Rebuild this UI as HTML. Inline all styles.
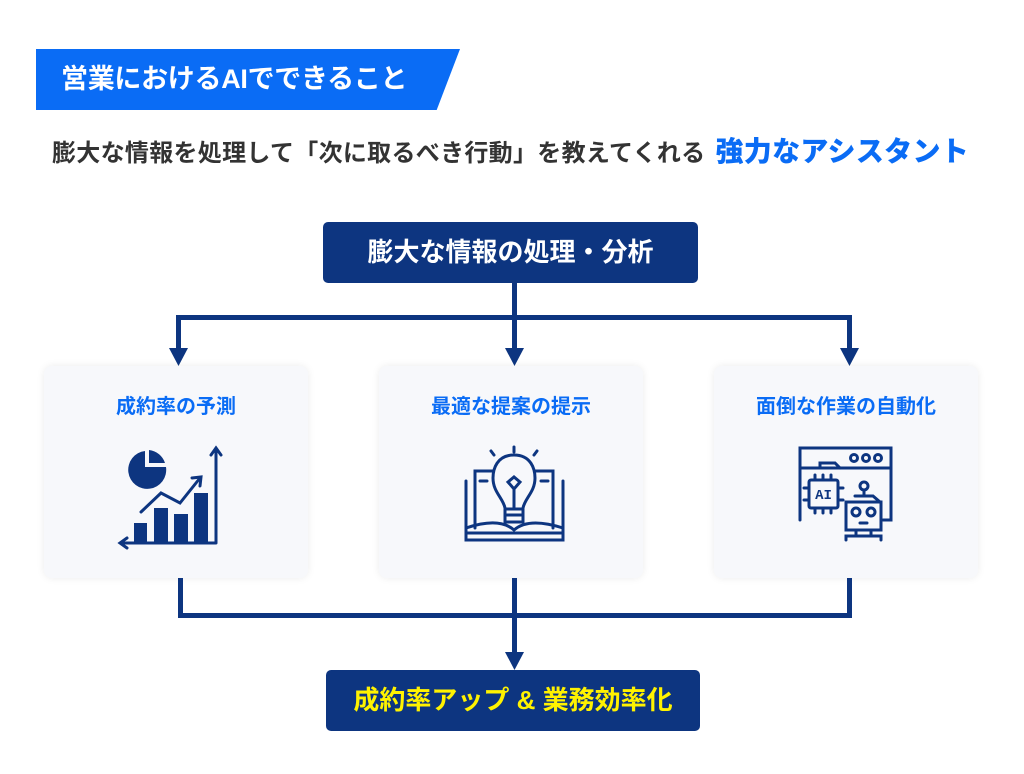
<!DOCTYPE html>
<html><head><meta charset="utf-8"><style>
body{margin:0;width:1024px;height:774px;background:#fff;position:relative;font-family:"Liberation Sans","Noto Sans CJK JP",sans-serif;overflow:hidden}
.a{position:absolute}
.banner{left:36px;top:49px;width:424px;height:61px;background:#0a6cf5;clip-path:polygon(0 0,100% 0,94.5% 100%,0 100%)}
.bt{left:61px;top:49px;height:61px;line-height:60px;color:#fff;font-weight:bold;font-size:27px;letter-spacing:-0.3px}
.sub{left:52px;top:130px;height:44px;line-height:44px;color:#333;font-weight:bold;font-size:24px;white-space:nowrap;letter-spacing:0.3px}
.sub b{color:#0a6cf5;font-size:28px;margin-left:10px}
.box{background:#0d3580;border-radius:5px;color:#fff;font-weight:bold;font-size:26px;text-align:center;line-height:61px;height:61px}
.card{background:#f7f8fb;border-radius:8px;box-shadow:0 0 8px rgba(0,0,0,.08);width:264px;height:212px;top:366px}
.card .t{position:absolute;top:28px;width:100%;text-align:center;color:#0a6cf5;font-weight:bold;font-size:20px;line-height:26px}
.ln{background:#0d3580}
</style></head><body>
<div class="a banner"></div>
<div class="a bt">営業におけるAIでできること</div>
<div class="a sub">膨大な情報を処理して「次に取るべき行動」を教えてくれる<b>強力なアシスタント</b></div>
<div class="a box" style="left:323px;top:222px;width:375px">膨大な情報の処理・分析</div>
<div class="a ln" style="left:512px;top:283px;width:5px;height:70px"></div>
<div class="a ln" style="left:176px;top:315px;width:676px;height:5px"></div>
<div class="a ln" style="left:176px;top:315px;width:5px;height:38px"></div>
<div class="a ln" style="left:847px;top:315px;width:5px;height:38px"></div>
<svg class="a" style="left:0;top:0" width="1024" height="774">
<g fill="#0d3580"><polygon points="169,348 188,348 178.5,366"/><polygon points="505,348 524,348 514.5,366"/><polygon points="840,348 859,348 849.5,366"/></g>
</svg>
<div class="a card" style="left:44px"><div class="t">成約率の予測</div></div>
<div class="a card" style="left:379px"><div class="t">最適な提案の提示</div></div>
<div class="a card" style="left:714px"><div class="t">面倒な作業の自動化</div></div>
<svg class="a" style="left:0;top:0" width="1024" height="774" fill="none" stroke="#0d3580" stroke-width="3" stroke-linecap="round">
<path d="M145 451 A19 19 0 1 0 166 467 L145 467 Z" fill="#0d3580" stroke="none"/>
<path d="M149 450 L149 463 L165 463 A19 19 0 0 0 149 450Z" fill="#0d3580" stroke="none"/>
<g fill="#0d3580" stroke="none"><rect x="134" y="523" width="13" height="20"/><rect x="154" y="508" width="14" height="35"/><rect x="174" y="514" width="14" height="29"/><rect x="194" y="493" width="14" height="50"/></g>
<path d="M141 512 L161 493 L180 503 L200 478"/><path d="M192 478 L201 477 L200 486"/>
<path d="M216 543 L216 449 M211 455 L216 448 L221 455 M216 543 L121 543 M127 538 L120 543 L127 548"/>
<path d="M514 455 C497 455 493 469 493 478 C493 492 503 498 505 508 L505 522 L523 522 L523 508 C525 498 535 492 535 478 C535 469 531 455 514 455Z"/>
<path d="M505 509 L523 509 M505 515 L523 515 M514 508 L514 490 M508 482 L514 489 L520 482 L514 477Z"/>
<path d="M514 447 L514 452 M494 455 L491 451 M534 455 L537 451"/>
<path d="M492 471 L475 471 L475 528 M536 471 L553 471 L553 528 M480 481 L487 481 M541 481 L548 481"/>
<path d="M466 481 L466 540 L563 540 L563 481 M466 533 L563 533 M466 528 C490 520 505 522 514 530 C523 522 538 520 563 528"/>
<path d="M800 520 L800 448 L891 448 L891 520 L883 520 M800 468 L891 468"/>
<circle cx="854" cy="458" r="3.5"/><circle cx="866" cy="458" r="3.5"/><circle cx="878" cy="458" r="3.5"/>
<path d="M820 468 L820 463 L835 463 L840 468"/>
<rect x="809" y="480" width="29" height="28" rx="2"/><path d="M815 480 L815 475 M823 480 L823 475 M831 480 L831 475 M815 508 L815 513 M823 508 L823 513 M831 508 L831 513 M809 488 L804 488 M809 500 L804 500 M838 488 L843 488 M838 500 L843 500"/>
<text x="823.5" y="499" font-size="14" font-weight="bold" fill="#0d3580" stroke="none" text-anchor="middle" font-family="Liberation Mono">AI</text>
<circle cx="864" cy="486" r="4"/><path d="M864 490 L864 496 M855 496 L873 496 L880 502 M846 502 L881 502 L881 530 L846 530 Z"/>
<circle cx="856" cy="512" r="4"/><circle cx="871" cy="512" r="4"/><path d="M860 523 L867 523 M856 530 L856 536 M871 530 L871 536 M846 540 L846 536 L881 536 L881 540"/>
</svg>
<div class="a ln" style="left:178px;top:578px;width:5px;height:40px"></div>
<div class="a ln" style="left:847px;top:578px;width:5px;height:40px"></div>
<div class="a ln" style="left:178px;top:613px;width:674px;height:5px"></div>
<div class="a ln" style="left:512px;top:578px;width:5px;height:76px"></div>
<svg class="a" style="left:0;top:0" width="1024" height="774"><polygon fill="#0d3580" points="505,652 524,652 514.5,670"/></svg>
<div class="a box" style="left:326px;top:670px;width:374px;color:#fff200">成約率アップ &amp; 業務効率化</div>
</body></html>
